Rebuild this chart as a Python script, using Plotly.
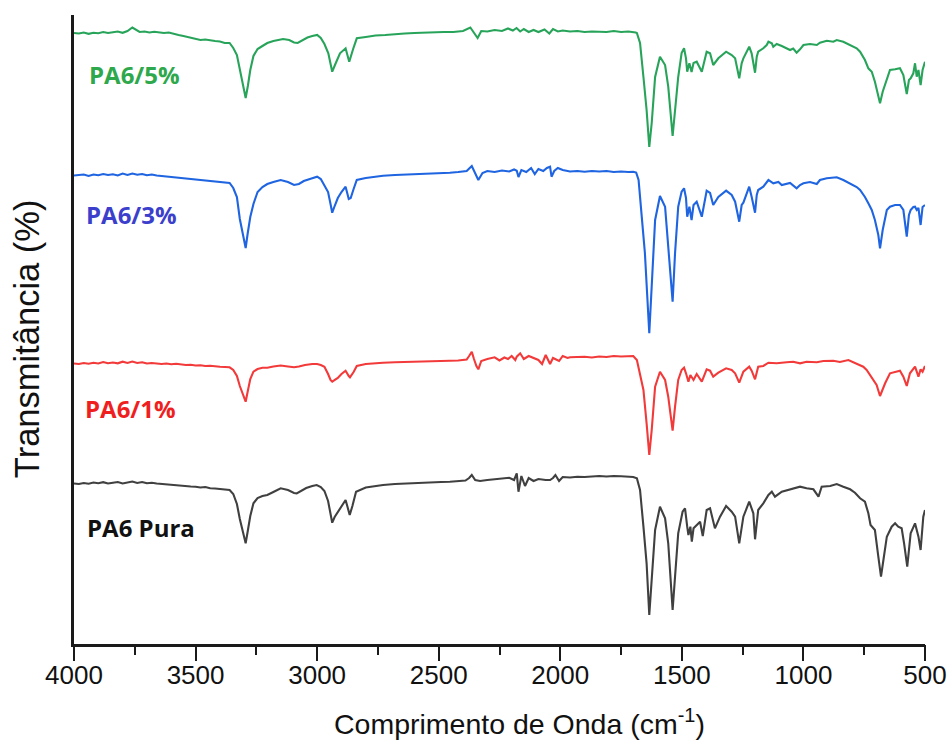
import plotly.graph_objects as go

# ---------------- data (wavenumber cm-1, transmittance in arbitrary offset units) -------------
wn_pa6_5 = [4000, 3980, 3960, 3940, 3920, 3900, 3880, 3860, 3840, 3820, 3800, 3780, 3760, 3745, 3730,
            3710, 3690, 3670, 3650, 3630, 3610, 3590, 3570, 3550, 3530, 3500, 3480, 3460, 3440, 3420,
            3400, 3380, 3360, 3345, 3330, 3315, 3305, 3294, 3285, 3275, 3262, 3245, 3225, 3205, 3180,
            3160, 3140, 3115, 3095, 3080, 3060, 3040, 3020, 3000, 2985, 2970, 2954, 2938, 2925, 2906,
            2883, 2868, 2852, 2837, 2800, 2760, 2720, 2680, 2640, 2600, 2560, 2520, 2480, 2440, 2400,
            2370, 2355, 2340, 2325, 2300, 2270, 2240, 2215, 2195, 2180, 2165, 2150, 2130, 2110, 2090,
            2065, 2045, 2030, 2010, 1990, 1960, 1930, 1900, 1870, 1840, 1810, 1780, 1750, 1720,
            1700, 1690, 1685, 1672, 1658, 1645, 1634, 1624, 1610, 1590, 1569, 1556, 1538, 1528, 1515,
            1501, 1491, 1483, 1478, 1469, 1460, 1452, 1439, 1418, 1398, 1384, 1371, 1350, 1318, 1295,
            1281, 1264, 1254, 1247, 1223, 1213, 1199, 1192, 1186, 1165, 1151, 1144, 1130, 1124, 1110,
            1089, 1055, 1042, 1028, 1014, 1000, 973, 945, 932, 904, 877, 863, 836, 808, 781, 767, 747,
            733, 719, 706, 692, 685, 674, 657, 644, 623, 603, 589, 582, 575, 566, 559, 548, 541, 534,
            527, 518, 510, 500]
t_pa6_5 = [611, 610.5, 611.5, 610.2, 611.2, 610.8, 612, 611, 611.8, 612.5, 611.2, 613, 616.5, 614, 612,
           612.5, 611.5, 612.2, 611.5, 611, 611.5, 610, 609, 608, 607, 605.5, 604, 604.5, 603.5, 603,
           602.5, 601, 601, 596, 589, 572, 559, 546, 558, 574, 588, 595, 598, 601, 603,
           604, 605, 604, 601.5, 601, 604, 606.5, 608, 609, 606, 600, 590.7, 572.3, 580, 590.7,
           595.7, 582.3, 595, 605.7, 607, 608.5, 609, 610, 610.5, 611, 611.5, 611.5, 612, 612, 613,
           616.5, 611, 606, 613, 612.5, 614, 613, 615.5, 613.5, 616, 612.5, 615, 612, 614, 612,
           614.5, 610.5, 615, 612.5, 613.5, 612.5, 613, 612, 612.5, 612.5, 612, 613, 612, 612.5,
           612.3, 611.5, 611, 601, 567, 534, 497, 521, 567, 587.3, 579, 557.3, 508, 531, 567,
           591, 595.7, 585.7, 572.3, 580.7, 572, 581, 582.3, 572.3, 592.3, 590.7, 579, 585.7, 592.3, 589,
           585.7, 565.7, 580.7, 585.7, 597.3, 590.7, 571.3, 587.3, 592.3, 595.7, 599, 602.3, 600.7, 597.3, 600,
           598, 594, 595.5, 591.3, 594.7, 599, 600, 599, 601.3, 603.3, 602.3, 604, 602.3, 599, 595.7, 592.3, 584,
           575.7, 572.3, 562.3, 549, 540.7, 552.3, 565.7, 574, 574.7, 575.7, 569, 557.3, 550, 564, 565.7, 570.7, 580.7, 567.3,
           574, 559, 574, 582.3]

wn_pa6_3 = [4000, 3980, 3960, 3940, 3920, 3900, 3880, 3860, 3840, 3820, 3800, 3780, 3760, 3740, 3720,
            3700, 3680, 3660, 3640, 3620, 3600, 3580, 3560, 3540, 3520, 3500, 3480, 3460, 3440, 3420,
            3400, 3380, 3360, 3345, 3330, 3318, 3305, 3294, 3286, 3275, 3262, 3245, 3225, 3205, 3180,
            3150, 3120, 3095, 3075, 3055, 3030, 3000, 2985, 2970, 2955, 2945, 2938, 2928, 2915, 2900,
            2883, 2870, 2862, 2850, 2837, 2800, 2760, 2729, 2680, 2620, 2591, 2540, 2490, 2454, 2420,
            2385, 2364, 2350, 2337, 2320, 2300, 2270, 2240, 2210, 2190, 2179, 2172, 2160, 2140, 2120,
            2105, 2090, 2070, 2055, 2042, 2036, 2025, 2010, 1990, 1960, 1930, 1900, 1870, 1840, 1810,
            1780, 1750, 1720,
            1700, 1688, 1678, 1665, 1652, 1634, 1624, 1610, 1590, 1569, 1556, 1538, 1528, 1515, 1501,
            1491, 1483, 1478, 1469, 1460, 1452, 1439, 1418, 1398, 1384, 1371, 1350, 1318, 1295, 1281,
            1264, 1254, 1247, 1223, 1213, 1199, 1192, 1186, 1165, 1144, 1124, 1103, 1089, 1055, 1028,
            1014, 1000, 973, 945, 932, 904, 877, 863, 836, 808, 781, 767, 747, 733, 719, 706, 692, 685,
            674, 657, 644, 623, 603, 589, 582, 575, 566, 559, 548, 541, 534, 527, 518, 510, 500]
t_pa6_3 = [468.5, 469, 469.5, 468, 469.5, 468.7, 470, 469, 469.8, 468.5, 470.5, 469, 470.5, 469.2, 470,
           468.8, 469.5, 468.5, 468, 467.5, 467, 466.5, 465.7, 465, 464.5, 464, 463.5, 463, 462.5, 462,
           461.7, 461.3, 461, 456, 447, 425, 408, 396, 410, 427, 440, 452, 457, 460, 462,
           464, 462, 459, 460, 463, 465, 467.3, 465, 459, 452, 440, 431.3, 438, 446, 452,
           457.3, 445, 446, 455, 464, 466, 467.5, 468.3, 469, 469.5, 470, 470.5, 471, 471.3, 472,
           473, 478, 470, 464, 471, 473, 472, 473.5, 472.5, 474.5, 473.3, 467, 474, 472, 476,
           470, 475, 473, 476, 477.3, 467.3, 473, 476, 474, 472.5, 473, 472.3, 473, 472.5, 473,
           472, 472.5, 472,
           472.3, 471.5, 464, 427.3, 391, 310.7, 357.3, 424, 448, 437.3, 397.3, 342.3, 391, 437.3, 452.3,
           455.7, 446, 427.3, 437.3, 424, 439, 442.3, 427.3, 453.3, 451, 439, 447, 453.3, 449, 442.3,
           422.3, 439, 441.3, 457.3, 447.3, 431.3, 449, 454, 457.3, 464, 460.7, 462, 459, 461, 455.7,
           459, 460.7, 462, 460, 464, 465.7, 466, 466.7, 464, 460.7, 457, 454, 447, 440.7, 434, 424, 409, 395.7,
           414, 434, 437.3, 439, 439, 434, 419, 407.3, 429, 434, 437, 437.3, 434, 436, 419, 437, 439]

wn_pa6_1 = [4000, 3980, 3960, 3940, 3920, 3900, 3880, 3860, 3840, 3820, 3800, 3780, 3760, 3740, 3720,
            3700, 3680, 3660, 3640, 3620, 3600, 3580, 3560, 3540, 3520, 3500, 3480, 3460, 3440, 3420,
            3400, 3380, 3360, 3345, 3330, 3318, 3305, 3294, 3286, 3275, 3262, 3245, 3225, 3205, 3180,
            3150, 3120, 3095, 3075, 3050, 3020, 3000, 2985, 2970, 2955, 2945, 2938, 2928, 2915, 2900,
            2883, 2870, 2865, 2850, 2837, 2800, 2760, 2729, 2680, 2620, 2591, 2540, 2490, 2454, 2420,
            2385, 2375, 2364, 2355, 2345, 2337, 2325, 2300, 2270, 2250, 2230, 2215, 2200, 2185, 2179,
            2165, 2150, 2130, 2110, 2090, 2075, 2060, 2042, 2030, 2005, 1990, 1970, 1960, 1930, 1900,
            1870, 1840, 1810, 1780, 1750, 1720,
            1700, 1685, 1672, 1658, 1645, 1634, 1624, 1610, 1590, 1569, 1556, 1538, 1528, 1515, 1501,
            1491, 1483, 1473, 1465, 1452, 1439, 1418, 1398, 1384, 1371, 1350, 1318, 1295, 1281, 1264,
            1247, 1223, 1213, 1199, 1186, 1165, 1144, 1110, 1069, 1042, 1014, 987, 945, 918, 877, 850,
            815, 781, 754, 740, 712, 699, 685, 664, 644, 623, 603, 589, 575, 562, 541, 527, 518, 510, 500]
t_pa6_1 = [280.5, 280, 281, 280.3, 281.2, 280.5, 282, 280.8, 281.5, 280.7, 282.3, 281, 282.5, 281, 281.8,
           280.5, 281, 280.5, 280, 280.5, 279.8, 280.2, 279.5, 279, 279.3, 278.5, 278.8, 278, 278.3, 277.5,
           277.3, 277, 276.7, 274, 268, 258, 249, 242.3, 252, 265, 272.3, 275, 276.3, 276.3, 277.5,
           278.5, 277.5, 276.7, 277.5, 279, 280, 280, 279, 277.3, 270, 264, 262.3, 264, 266, 270,
           273.3, 268, 266.7, 272, 278, 280, 281, 281.3, 281.8, 282, 282.3, 282.8, 283, 283.3, 283.5,
           284.5, 288, 292.3, 285, 278, 274.7, 283, 285, 286.7, 283.5, 286.5, 285, 288, 284, 287.3,
           290.7, 285, 288, 286, 284, 280, 289, 280, 286, 283, 288, 286, 286.7, 287, 287.3,
           286.5, 287.5, 287, 288, 287.5, 288,
           288, 284, 270.7, 254, 220.7, 189, 214, 257.3, 272.3, 264, 247.3, 213.3, 237.3, 264, 274,
           276.3, 270.7, 262.3, 269, 264, 270, 262.3, 274.7, 273.3, 267.3, 271.3, 275.7, 274, 270.7, 261.3,
           272.3, 277.3, 273.3, 264.7, 277.3, 278, 281.3, 280.7, 281.7, 282.3, 280.7, 282.3, 281.7, 283, 283.3, 282,
           284, 280.7, 277.3, 274, 264, 259, 248, 260.7, 270.7, 272.3, 273.3, 267.3, 258, 270.7, 277.3, 267.3, 274.7, 272.3, 278]

wn_pa6_pura = [4000, 3980, 3960, 3940, 3920, 3900, 3880, 3860, 3840, 3820, 3800, 3780, 3760, 3740, 3720,
               3700, 3680, 3660, 3640, 3620, 3600, 3580, 3560, 3540, 3520, 3500, 3480, 3460, 3440, 3420,
               3400, 3380, 3360, 3345, 3330, 3318, 3305, 3294, 3286, 3275, 3262, 3245, 3225, 3205, 3180,
               3150, 3120, 3095, 3084, 3065, 3045, 3020, 3002, 2985, 2970, 2955, 2945, 2938, 2928, 2915,
               2900, 2883, 2875, 2866, 2855, 2840, 2800, 2760, 2729, 2680, 2620, 2591, 2540, 2490, 2454,
               2420, 2390, 2375, 2364, 2350, 2330, 2300, 2270, 2240, 2210, 2190, 2179, 2172, 2160, 2145,
               2130, 2110, 2090, 2060, 2042, 2030, 2020, 2005, 1990, 1960, 1930, 1900, 1870, 1840, 1810,
               1780, 1750, 1720,
               1700, 1685, 1672, 1658, 1645, 1634, 1624, 1610, 1590, 1569, 1556, 1538, 1528, 1515, 1497,
               1487, 1478, 1473, 1465, 1459, 1452, 1439, 1425, 1414, 1398, 1384, 1364, 1343, 1318, 1295,
               1281, 1264, 1247, 1223, 1206, 1199, 1186, 1165, 1144, 1130, 1117, 1089, 1055, 1014, 987,
               959, 938, 925, 890, 863, 836, 808, 788, 767, 747, 733, 724, 706, 692, 681, 671, 657, 637,
               623, 610, 596, 586, 573, 559, 541, 527, 518, 507, 500]
t_pa6_pura = [160.5, 160, 161, 160.3, 161.5, 160.7, 161.8, 160.5, 161.3, 162, 160.5, 161.5, 162.5, 161, 162,
              160.8, 161.2, 160.5, 160, 159.8, 159.3, 158.8, 158.5, 158, 157.5, 157.3, 156.5, 157, 155.8, 155.5,
              155, 154.5, 154, 150, 140, 125, 112, 100.7, 112, 128, 140.7, 146, 148, 149, 152,
              155.7, 154, 151, 150.7, 153, 156, 158, 159, 157, 153, 143, 130, 121.3, 127, 132,
              138, 144, 137, 129, 138, 152.3, 156.5, 158, 159, 160, 160.8, 161.3, 161.7, 162, 162.3,
              163, 163.5, 166, 169, 164, 163, 164, 165, 165.5, 166.3, 164, 170.7, 152.3, 168, 158,
              166, 163, 165, 164, 164, 166, 169, 163, 167, 166.5, 167.3, 167, 167.5, 168, 167.5,
              168, 167.7, 167.3,
              167, 165.7, 154, 117.3, 80.7, 29, 60.7, 114, 137.3, 125.7, 100.7, 34, 67.3, 110.7, 132.3,
              135.7, 117.3, 109, 117.3, 102.3, 115.7, 119, 122.3, 108, 134, 135.7, 115.7, 127.3, 138, 132.3,
              127.3, 100.7, 127.3, 142.3, 130.7, 104.7, 134, 140.7, 149, 152.3, 147.3, 152.3, 154.7, 157.3, 155.7,
              154.7, 147.3, 157.3, 158, 160, 157.3, 154.7, 151.3, 145.7, 142.3, 130.7, 119, 114, 87.3, 67.3, 84, 107.3, 117.3,
              120.7, 117.3, 115.7, 100.7, 77.3, 110.7, 120.7, 107.3, 94, 127.3, 134]

series_names = ["PA6/5%", "PA6/3%", "PA6/1%", "PA6 Pura"]
line_colors = ["#28a45a", "#1f64e0", "#f23a3a", "#404040"]
label_colors = ["#2ea84c", "#3b3fcc", "#f01f1f", "#111111"]
label_wn = [3948, 3960, 3964, 3956]
label_t = [570, 430, 236, 117]

x_ticks = [4000, 3500, 3000, 2500, 2000, 1500, 1000, 500]
x_range = [4000, 500]

# ---------------- figure ----------------
fig = go.Figure()
all_wn = [wn_pa6_5, wn_pa6_3, wn_pa6_1, wn_pa6_pura]
all_t = [t_pa6_5, t_pa6_3, t_pa6_1, t_pa6_pura]
for name, wn, t, c in zip(series_names, all_wn, all_t, line_colors):
    fig.add_trace(go.Scatter(x=wn, y=t, mode="lines", name=name,
                             line=dict(color=c, width=2.1), showlegend=False))

# empty helper trace so the overlaid tick-mark axis (x2) is instantiated; it draws nothing
fig.add_trace(go.Scatter(x=x_ticks, y=[None] * len(x_ticks), xaxis="x2", yaxis="y",
                         mode="lines", showlegend=False, hoverinfo="skip"))

for name, lx, ly, c in zip(series_names, label_wn, label_t, label_colors):
    fig.add_annotation(x=lx, y=ly, xref="x", yref="y", text="<b>" + name + "</b>",
                       showarrow=False, xanchor="left", yanchor="middle",
                       font=dict(family="Open Sans", size=24, color=c))

axis_font = "Liberation Sans, Arial, sans-serif"

# axis titles placed as paper annotations so they sit where the original has them
fig.add_annotation(x=0.523, y=-0.124, xref="paper", yref="paper",
                   text="Comprimento de Onda (cm<sup>-1</sup>)", showarrow=False,
                   xanchor="center", yanchor="middle",
                   font=dict(family=axis_font, size=28.5, color="#111111"))
fig.add_annotation(x=-0.055, y=0.485, xref="paper", yref="paper",
                   text="Transmitância (%)", showarrow=False, textangle=-90,
                   xanchor="center", yanchor="middle",
                   font=dict(family=axis_font, size=34.5, color="#111111"))

fig.update_layout(
    width=950, height=744,
    margin=dict(l=74, r=25, t=15, b=100, autoexpand=False),
    paper_bgcolor="white", plot_bgcolor="white",
    # main x axis: line + tick labels (tick marks drawn by the overlaid axis below)
    xaxis=dict(range=x_range, tickvals=x_ticks, ticktext=[str(v) for v in x_ticks],
               automargin=False,
               showgrid=False, zeroline=False, showline=True, linecolor="#1a1a1a", linewidth=2.5,
               ticks="outside", ticklen=6, tickwidth=2, tickcolor="rgba(0,0,0,0)",
               tickfont=dict(family=axis_font, size=26, color="#111111")),
    # overlaid axis that only draws the long major / minor tick marks
    xaxis2=dict(range=x_range, overlaying="x", side="bottom", anchor="y",
                tickvals=x_ticks, showticklabels=False, automargin=False,
                showgrid=False, zeroline=False, showline=False,
                ticks="outside", ticklen=16, tickwidth=2.2, tickcolor="#1a1a1a",
                minor=dict(dtick=250, tick0=500, ticks="outside", ticklen=10, tickwidth=2.2,
                           tickcolor="#1a1a1a", showgrid=False)),
    yaxis=dict(range=[0, 629], automargin=False,
               showgrid=False, zeroline=False, showline=True, linecolor="#1a1a1a",
               linewidth=2.5, ticks="", showticklabels=False),
)

fig.write_html("out.html")
